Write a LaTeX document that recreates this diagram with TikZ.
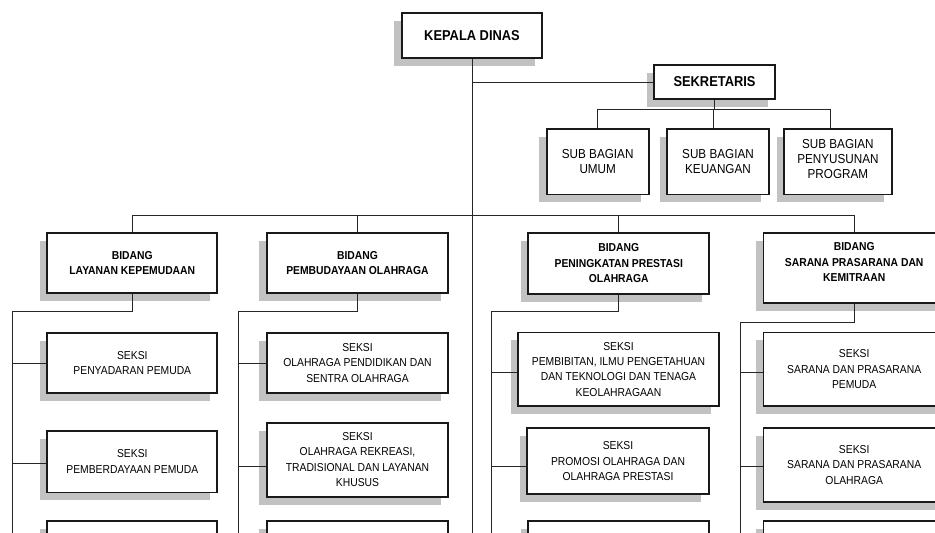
\documentclass[tikz,border=0pt]{standalone}
\usepackage{fontspec}
\setmainfont{Liberation Sans}[FakeStretch=0.9]
\usetikzlibrary{shadows,calc}
\begin{document}
\begin{tikzpicture}[x=1pt,y=-1pt,
  box/.style={draw=black!90, line width=1.7pt, fill=white, align=center, inner sep=2pt,
    drop shadow={shadow xshift=-7.5pt, shadow yshift=-8pt, fill=black!24, opacity=1}},
  topbox/.style={box, font=\fontsize{14.3}{17}\selectfont\bfseries},
  subbox/.style={box, font=\fontsize{13}{14.9}\selectfont},
  bidbox/.style={box, font=\fontsize{11.5}{15.3}\selectfont\bfseries},
  sekbox/.style={box, font=\fontsize{11.5}{15.4}\selectfont},
  link/.style={draw=black!85, line width=0.9pt}]
\useasboundingbox (0,0) rectangle (935,533);
\clip (0,0) rectangle (935,533);
\fill[white] (0,0) rectangle (935,533);

% top
\node[topbox, minimum width=140.6pt, minimum height=45.6pt] (kepala) at (472,35.5) {KEPALA DINAS};
\node[topbox, minimum width=121pt, minimum height=34pt] (sek) at (714.5,82) {SEKRETARIS};

% sub bagian
\node[subbox, minimum width=102pt, minimum height=65.3pt] (sub1) at (597.7,161.7) {SUB BAGIAN\\UMUM};
\node[subbox, minimum width=101.4pt, minimum height=65.3pt] (sub2) at (718,161.7) {SUB BAGIAN\\KEUANGAN};
\node[subbox, minimum width=107.7pt, minimum height=65.3pt, text depth=6pt] (sub3) at (837.9,161.7) {SUB BAGIAN\\PENYUSUNAN\\PROGRAM};

% bidang
\node[bidbox, minimum width=170pt, minimum height=60.6pt] (b1) at (132.3,263) {BIDANG\\LAYANAN KEPEMUDAAN};
\node[bidbox, minimum width=181.6pt, minimum height=60.6pt] (b2) at (357.5,263) {BIDANG\\PEMBUDAYAAN OLAHRAGA};
\node[bidbox, minimum width=181pt, minimum height=61pt] (b3) at (618.8,263.2) {BIDANG\\PENINGKATAN PRESTASI\\OLAHRAGA};
\node[bidbox, minimum width=181.7pt, minimum height=70.6pt, text depth=12pt] (b4) at (854.2,268) {BIDANG\\SARANA PRASARANA DAN\\KEMITRAAN};

% seksi column 1
\node[sekbox, minimum width=170pt, minimum height=60.6pt] (s11) at (132.3,363) {SEKSI\\PENYADARAN PEMUDA};
\node[sekbox, minimum width=170pt, minimum height=61.3pt] (s12) at (132.3,461.7) {SEKSI\\PEMBERDAYAAN PEMUDA};
\node[sekbox, minimum width=170pt, minimum height=61pt] (s13) at (132.3,551.5) {};
% seksi column 2
\node[sekbox, minimum width=181.6pt, minimum height=60.6pt] (s21) at (357.5,363) {SEKSI\\OLAHRAGA PENDIDIKAN DAN\\SENTRA OLAHRAGA};
\node[sekbox, minimum width=181.6pt, minimum height=74pt] (s22) at (357.5,459.7) {SEKSI\\OLAHRAGA REKREASI,\\TRADISIONAL DAN LAYANAN\\KHUSUS};
\node[sekbox, minimum width=181.6pt, minimum height=61pt] (s23) at (357.5,551.5) {};
% seksi column 3
\node[sekbox, minimum width=200.4pt, minimum height=73.7pt] (s31) at (618.5,369.2) {SEKSI\\PEMBIBITAN, ILMU PENGETAHUAN\\DAN TEKNOLOGI DAN TENAGA\\KEOLAHRAGAAN};
\node[sekbox, minimum width=181.4pt, minimum height=66pt] (s32) at (618,461.3) {SEKSI\\PROMOSI OLAHRAGA DAN\\OLAHRAGA PRESTASI};
\node[sekbox, minimum width=181pt, minimum height=61pt] (s33) at (618.8,551.5) {};
% seksi column 4
\node[sekbox, minimum width=181.7pt, minimum height=73.7pt] (s41) at (854.2,369.2) {SEKSI\\SARANA DAN PRASARANA\\PEMUDA};
\node[sekbox, minimum width=181.7pt, minimum height=73.4pt] (s42) at (854.2,465) {SEKSI\\SARANA DAN PRASARANA\\OLAHRAGA};
\node[sekbox, minimum width=181.7pt, minimum height=61pt] (s43) at (854.2,551.5) {};

% coordinates for connectors
\coordinate (mainend) at (472,545);
\coordinate (bbar) at (472,215.7);
\coordinate (sbar) at ($(sek.south)+(0,10)$);
\coordinate (t2) at ([xshift=-5pt]sub2.north);
\coordinate (t3) at ([xshift=-7pt]sub3.north);
\coordinate (v1) at (12.3,311);   \coordinate (v1e) at (12.3,545);
\coordinate (v2) at (238.3,311);  \coordinate (v2e) at (238.3,545);
\coordinate (v3) at (491.7,311);  \coordinate (v3e) at (491.7,545);
\coordinate (v4) at (740.7,322.7);\coordinate (v4e) at (740.7,545);
\coordinate (c12) at ([yshift=-1.5pt]s12.west);
\coordinate (c22) at ([yshift=-7pt]s22.west);
\coordinate (c31) at ([yshift=-3pt]s31.west);
\coordinate (c32) at ([yshift=-5.4pt]s32.west);
\coordinate (c41) at ([yshift=-3pt]s41.west);
\coordinate (c42) at ([yshift=-1.7pt]s42.west);

% connectors
\draw[link] (kepala.south) -- (mainend);
\draw[link] (kepala.south) |- (sek.west);
\draw[link] (sek.south) -- (sbar);
\draw[link] (sub1.north) |- (sbar);
\draw[link] (t3) |- (sbar);
\draw[link] (t2) -- (t2 |- sbar);
\draw[link] (b1.north) |- (bbar) -| (b4.north);
\draw[link] (b2.north) -- (b2.north |- bbar);
\draw[link] (b3.north) -- (b3.north |- bbar);

\draw[link] (b1.south) |- (v1) -- (v1e);
\draw[link] (b2.south) |- (v2) -- (v2e);
\draw[link] (b3.south) |- (v3) -- (v3e);
\draw[link] (b4.south) |- (v4) -- (v4e);

\draw[link] (s11.west) -- (s11.west -| v1);
\draw[link] (c12) -- (c12 -| v1);
\draw[link] (s21.west) -- (s21.west -| v2);
\draw[link] (c22) -- (c22 -| v2);
\draw[link] (c31) -- (c31 -| v3);
\draw[link] (c32) -- (c32 -| v3);
\draw[link] (c41) -- (c41 -| v4);
\draw[link] (c42) -- (c42 -| v4);
\end{tikzpicture}
\end{document}
